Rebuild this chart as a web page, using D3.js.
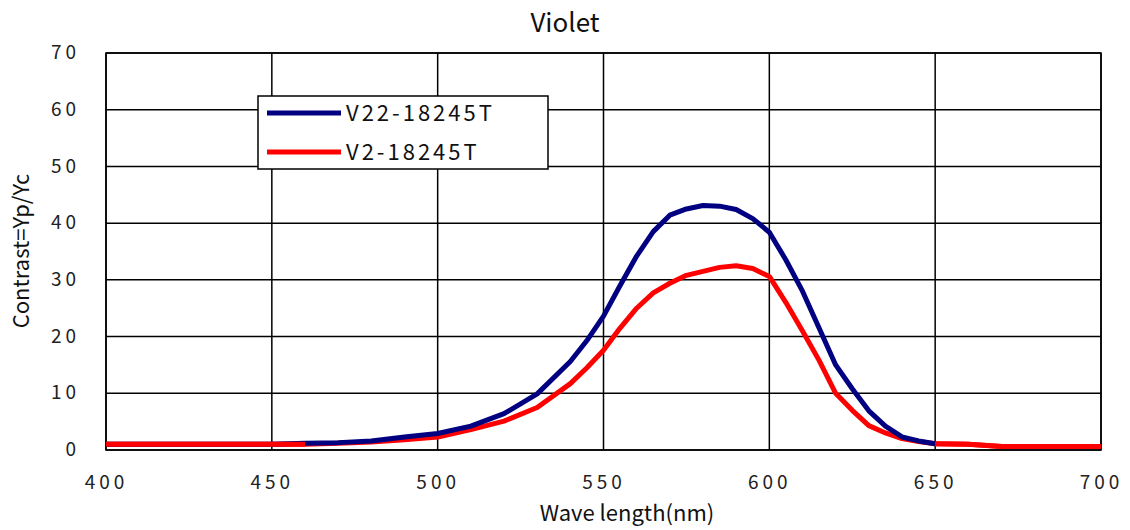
<!DOCTYPE html>
<html><head><meta charset="utf-8">
<script src="https://cdn.jsdelivr.net/npm/d3@7"></script>
<style>body{margin:0;background:#fff}svg{display:block}</style>
</head><body>
<svg id="c" width="1130" height="530"></svg>
<script>
const wavelengths = [400,410,420,430,440,450,460,470,480,490,500,510,520,530,540,545,550,555,560,565,570,575,580,585,590,595,600,605,610,615,620,625,630,635,640,645,650,660,670,680,690,700];
const v22 = [1.0,1.0,1.0,1.0,1.0,1.0,1.2,1.3,1.6,2.3,2.9,4.2,6.4,9.9,15.6,19.3,23.6,29,34.2,38.5,41.4,42.5,43.1,43.0,42.4,40.8,38.4,33.5,28,21.5,15,10.8,6.9,4.2,2.3,1.6,1.1,0.7,0.6,0.6,0.6,0.6];
const v2 = [1.0,1.0,1.0,1.0,1.0,1.0,1.0,1.2,1.4,1.8,2.3,3.6,5.1,7.5,11.7,14.5,17.6,21.5,25,27.7,29.4,30.8,31.5,32.2,32.5,32.0,30.6,26,21,15.8,10,7.0,4.3,3.0,2.0,1.5,1.1,1.0,0.6,0.6,0.6,0.6];
const xTicks = [400,450,500,550,600,650,700];
const yTicks = [0,10,20,30,40,50,60,70];
const seriesNames = ["V22-18245T","V2-18245T"];
const seriesColors = ["#000080","#ff0000"];

const svg = d3.select("#c");
const L=106,R=1101,T=53,B=450;
const x = d3.scaleLinear().domain([400,700]).range([L,R]);
const y = d3.scaleLinear().domain([0,70]).range([B,T]);
const font = "'Noto Sans CJK JP','DejaVu Sans',sans-serif";

const g = svg.append("g");
g.selectAll("line.v").data(xTicks).join("line")
  .attr("x1",d=>x(d)).attr("x2",d=>x(d)).attr("y1",T).attr("y2",B)
  .attr("stroke","#000").attr("stroke-width",1.5);
g.selectAll("line.h").data(yTicks).join("line")
  .attr("x1",L).attr("x2",R).attr("y1",d=>y(d)).attr("y2",d=>y(d))
  .attr("stroke","#000").attr("stroke-width",1.5);
g.append("rect").attr("x",L).attr("y",T).attr("width",R-L).attr("height",B-T)
  .attr("fill","none").attr("stroke","#000").attr("stroke-width",1.5);

const xAxis = svg.append("g").attr("transform",`translate(0,${B})`)
  .call(d3.axisBottom(x).tickValues(xTicks).tickSize(0).tickPadding(26));
xAxis.select(".domain").remove();
xAxis.selectAll("text").attr("font-family",font).attr("font-size",19)
  .attr("letter-spacing","4px").attr("fill","#222");
const yAxis = svg.append("g").attr("transform",`translate(${L},0)`)
  .call(d3.axisLeft(y).tickValues(yTicks).tickSize(0).tickPadding(26));
yAxis.select(".domain").remove();
yAxis.selectAll("text").attr("font-family",font).attr("font-size",19)
  .attr("letter-spacing","4px").attr("fill","#222").attr("dy","0.3em");

const line = d3.line().x(d=>x(d[0])).y(d=>y(d[1]));
const blueData = wavelengths.map((w,i)=>[w,v22[i]]);
const redData = wavelengths.map((w,i)=>[w,v2[i]]);
svg.append("path").datum(redData).attr("d",line).attr("fill","none")
  .attr("stroke",seriesColors[1]).attr("stroke-width",5).attr("stroke-linejoin","round");
svg.append("path").datum(blueData.filter(d=>d[0]>=400&&d[0]<=650)).attr("d",line).attr("fill","none")
  .attr("stroke",seriesColors[0]).attr("stroke-width",5).attr("stroke-linejoin","round");
svg.append("path").datum(redData.filter(d=>d[0]<=460)).attr("d",line).attr("fill","none")
  .attr("stroke",seriesColors[1]).attr("stroke-width",5);
svg.append("path").datum(redData.filter(d=>d[0]>=650)).attr("d",line).attr("fill","none")
  .attr("stroke",seriesColors[1]).attr("stroke-width",5);

const lg = svg.append("g");
lg.append("rect").attr("x",258).attr("y",96).attr("width",290).attr("height",73)
  .attr("fill","#fff").attr("stroke","#000").attr("stroke-width",1.5);
seriesNames.forEach((n,i)=>{
  const yy = 113 + i*39;
  lg.append("line").attr("x1",267).attr("x2",341).attr("y1",yy).attr("y2",yy)
    .attr("stroke",seriesColors[i]).attr("stroke-width",5);
  lg.append("text").attr("x",346).attr("y",yy+8).text(n)
    .attr("font-family",font).attr("font-size",22).attr("letter-spacing","3px").attr("fill","#111");
});

svg.append("text").attr("x",565).attr("y",32).attr("text-anchor","middle")
  .attr("font-family",font).attr("font-size",26).attr("fill","#111").text("Violet");
svg.append("text").attr("x",627).attr("y",521).attr("text-anchor","middle")
  .attr("font-family",font).attr("font-size",22).attr("fill","#111").text("Wave length(nm)");
svg.append("text").attr("transform","translate(29,251) rotate(-90)").attr("text-anchor","middle")
  .attr("font-family",font).attr("font-size",22).attr("fill","#111").text("Contrast=Yp/Yc");
</script>
</body></html>
